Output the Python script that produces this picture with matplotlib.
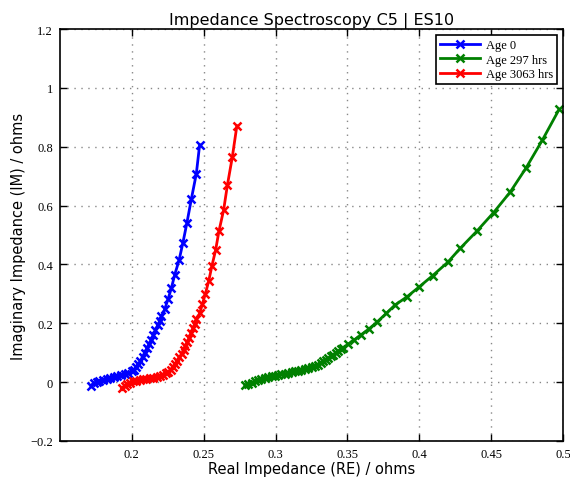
import matplotlib
matplotlib.use('Agg')
import matplotlib.pyplot as plt
from matplotlib.ticker import FuncFormatter

# ------------- data -------------
age0_re = [0.1715, 0.1735, 0.1755, 0.1775, 0.180, 0.1825, 0.185, 0.1875, 0.190, 0.1925,
           0.195, 0.1975, 0.200, 0.2015, 0.203, 0.2045, 0.206, 0.2075, 0.209, 0.2105,
           0.212, 0.2135, 0.215, 0.2165, 0.218, 0.2195, 0.2206, 0.2229, 0.2252, 0.2276,
           0.2299, 0.2329, 0.2356, 0.2384, 0.2414, 0.2449, 0.2472]
age0_im = [-0.012, -0.004, 0.000, 0.004, 0.008, 0.011, 0.014, 0.017, 0.020, 0.023,
           0.027, 0.031, 0.036, 0.042, 0.050, 0.060, 0.072, 0.086, 0.100, 0.114,
           0.128, 0.143, 0.160, 0.176, 0.193, 0.208, 0.223, 0.247, 0.281, 0.320,
           0.365, 0.414, 0.474, 0.542, 0.621, 0.708, 0.806]

age297_re = [0.2787, 0.2805, 0.2833, 0.2855, 0.288, 0.290, 0.2926, 0.295, 0.2972, 0.2995,
             0.3018, 0.304, 0.3064, 0.309, 0.3111, 0.3135, 0.3157, 0.318, 0.3203, 0.3225,
             0.325, 0.3275, 0.3297, 0.3315, 0.3331, 0.3348, 0.3366, 0.3384, 0.3401, 0.3418,
             0.3435, 0.3453, 0.3470, 0.3505, 0.3546, 0.3593, 0.3648, 0.3708, 0.3771, 0.3831,
             0.3912, 0.4000, 0.4093, 0.4197, 0.4285, 0.4398, 0.4516, 0.4632, 0.4741, 0.4856,
             0.4972]
age297_im = [-0.011, -0.006, -0.002, 0.002, 0.006, 0.009, 0.013, 0.016, 0.019, 0.022,
             0.025, 0.027, 0.028, 0.031, 0.034, 0.036, 0.039, 0.042, 0.045, 0.048,
             0.051, 0.055, 0.059, 0.065, 0.071, 0.076, 0.082, 0.087, 0.092, 0.099,
             0.105, 0.111, 0.116, 0.129, 0.143, 0.160, 0.180, 0.205, 0.234, 0.262,
             0.289, 0.324, 0.362, 0.407, 0.455, 0.512, 0.576, 0.646, 0.727, 0.823,
             0.927]

age3063_re = [0.193, 0.195, 0.197, 0.199, 0.2007, 0.203, 0.2055, 0.208, 0.210, 0.2125,
              0.215, 0.2175, 0.2195, 0.2215, 0.2235, 0.2255, 0.227, 0.2285, 0.230, 0.2315,
              0.233, 0.2347, 0.236, 0.2372, 0.2385, 0.2398, 0.241, 0.2425, 0.2438, 0.245,
              0.2472, 0.2491, 0.2512, 0.2535, 0.2558, 0.2583, 0.2606, 0.2639, 0.2665, 0.2699,
              0.2731]
age3063_im = [-0.022, -0.012, -0.006, -0.002, 0.002, 0.005, 0.007, 0.009, 0.011, 0.013,
              0.015, 0.018, 0.021, 0.025, 0.029, 0.035, 0.042, 0.051, 0.061, 0.072,
              0.084, 0.096, 0.109, 0.121, 0.135, 0.150, 0.165, 0.182, 0.198, 0.215,
              0.233, 0.264, 0.300, 0.343, 0.396, 0.448, 0.512, 0.585, 0.669, 0.764,
              0.871]

labels = ['Age 0', 'Age 297 hrs', 'Age 3063 hrs']
colors = ['#0000ff', '#008000', '#ff0000']
xticks = [0.2, 0.25, 0.3, 0.35, 0.4, 0.45, 0.5]
yticks = [-0.2, 0, 0.2, 0.4, 0.6, 0.8, 1.0, 1.2]

fig = plt.figure(figsize=(5.7, 4.85), dpi=100)
ax = fig.add_axes([0.105, 0.089, 0.883, 0.849])

series = [(age0_re, age0_im), (age297_re, age297_im), (age3063_re, age3063_im)]
for (re, im), lab, col in zip(series, labels, colors):
    ax.plot(re, im, '-x', color=col, lw=2, ms=6, mew=1.8, label=lab)

ax.set_xlim(0.15, 0.5)
ax.set_ylim(-0.2, 1.2)
ax.set_xticks(xticks)
ax.set_yticks(yticks)
fmt = FuncFormatter(lambda v, p: ('%g' % round(v, 3)).replace('-', '\u2212'))
ax.xaxis.set_major_formatter(fmt)
ax.yaxis.set_major_formatter(fmt)
for lbl in ax.get_xticklabels() + ax.get_yticklabels():
    lbl.set_family('Liberation Serif')
    lbl.set_fontsize(9)
ax.tick_params(direction='in', top=True, right=True, length=5, width=1, pad=5)
ax.grid(True, linestyle=(0, (1, 4)), color='#888888', lw=1)
for s in ax.spines.values():
    s.set_linewidth(1.2)

ax.set_title('Impedance Spectroscopy C5 | ES10', fontsize=11.5, family='DejaVu Sans', pad=4)
ax.set_xlabel('Real Impedance (RE) / ohms', fontsize=10.5, labelpad=1)
ax.set_ylabel('Imaginary Impedance (IM) / ohms', fontsize=10.5, labelpad=3)

leg = ax.legend(loc='upper right', prop={'family': 'Liberation Serif', 'size': 9},
                fancybox=False, edgecolor='black', framealpha=1, handlelength=3.2,
                borderpad=0.3, labelspacing=0.2, handletextpad=0.5)
leg.get_frame().set_linewidth(1.2)

plt.savefig('out.png', dpi=100)
